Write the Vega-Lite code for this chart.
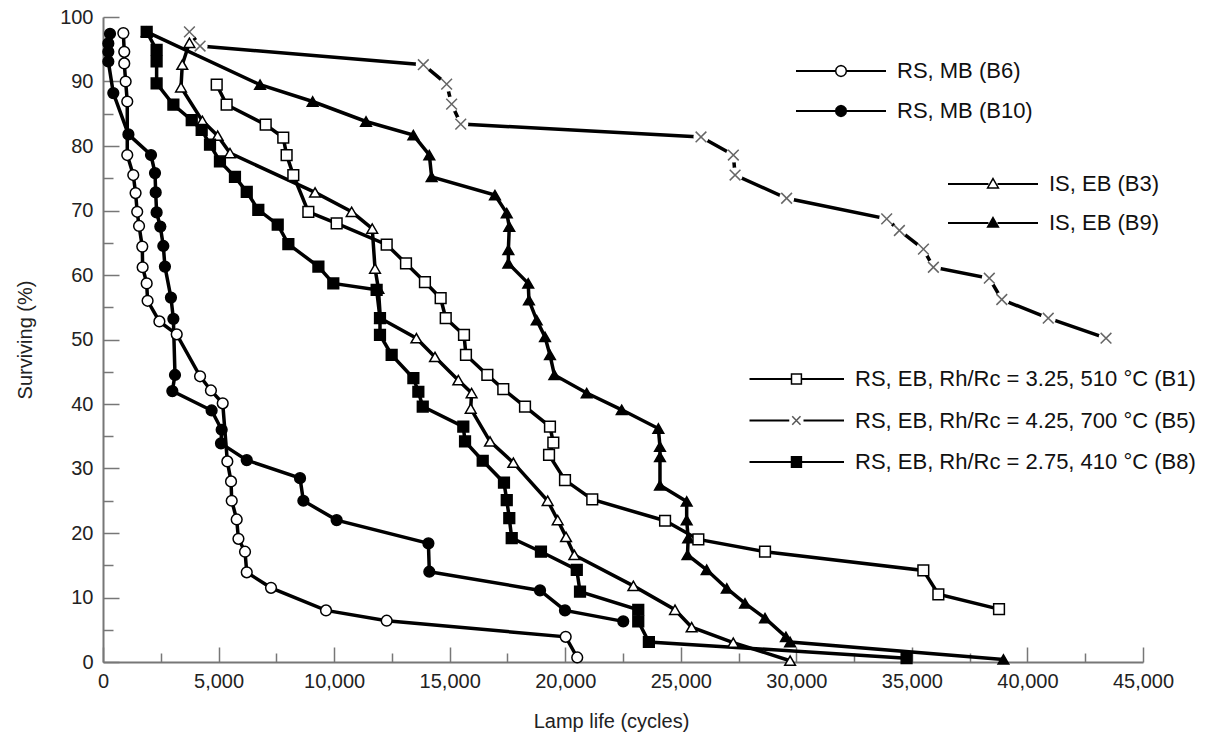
{
"$schema": "https://vega.github.io/schema/vega-lite/v6.json",
"width": 1040, "height": 645,
"autosize": {"type": "none"},
"padding": {"left": 103, "top": 17, "right": 76, "bottom": 80},
"background": "white",
"config": {"view": {"stroke": null}, "font": "Liberation Sans"},
"datasets": {
"pts": [
{"s":"B6","i":0,"x":880,"y":97.5},{"s":"B6","i":1,"x":920,"y":94.6},{"s":"B6","i":2,"x":920,"y":92.8},{"s":"B6","i":3,"x":980,"y":90.0},{"s":"B6","i":4,"x":1050,"y":86.9},{"s":"B6","i":5,"x":1050,"y":78.6},{"s":"B6","i":6,"x":1310,"y":75.5},{"s":"B6","i":7,"x":1410,"y":72.7},{"s":"B6","i":8,"x":1480,"y":69.8},{"s":"B6","i":9,"x":1560,"y":67.6},{"s":"B6","i":10,"x":1700,"y":64.4},{"s":"B6","i":11,"x":1715,"y":61.2},{"s":"B6","i":12,"x":1890,"y":58.7},{"s":"B6","i":13,"x":1930,"y":56.0},{"s":"B6","i":14,"x":2440,"y":52.8},{"s":"B6","i":15,"x":3190,"y":50.8},{"s":"B6","i":16,"x":4200,"y":44.3},{"s":"B6","i":17,"x":4670,"y":42.1},{"s":"B6","i":18,"x":5180,"y":40.1},{"s":"B6","i":19,"x":5380,"y":31.1},{"s":"B6","i":20,"x":5540,"y":28.0},{"s":"B6","i":21,"x":5570,"y":25.0},{"s":"B6","i":22,"x":5785,"y":22.1},{"s":"B6","i":23,"x":5860,"y":19.1},{"s":"B6","i":24,"x":6145,"y":17.1},{"s":"B6","i":25,"x":6220,"y":13.9},{"s":"B6","i":26,"x":7270,"y":11.5},{"s":"B6","i":27,"x":9650,"y":8.0},{"s":"B6","i":28,"x":12275,"y":6.4},{"s":"B6","i":29,"x":20020,"y":3.9},{"s":"B6","i":30,"x":20520,"y":0.7},
{"s":"B10","i":0,"x":303,"y":97.4},{"s":"B10","i":1,"x":230,"y":95.9},{"s":"B10","i":2,"x":230,"y":94.6},{"s":"B10","i":3,"x":230,"y":93.1},{"s":"B10","i":4,"x":446,"y":88.2},{"s":"B10","i":5,"x":1100,"y":81.8},{"s":"B10","i":6,"x":2077,"y":78.6},{"s":"B10","i":7,"x":2250,"y":75.8},{"s":"B10","i":8,"x":2280,"y":72.8},{"s":"B10","i":9,"x":2320,"y":69.7},{"s":"B10","i":10,"x":2480,"y":67.5},{"s":"B10","i":11,"x":2610,"y":64.5},{"s":"B10","i":12,"x":2680,"y":61.3},{"s":"B10","i":13,"x":2940,"y":56.5},{"s":"B10","i":14,"x":3045,"y":53.2},{"s":"B10","i":15,"x":3115,"y":44.5},{"s":"B10","i":16,"x":3000,"y":42.0},{"s":"B10","i":17,"x":4700,"y":39.0},{"s":"B10","i":18,"x":5135,"y":36.0},{"s":"B10","i":19,"x":5105,"y":33.9},{"s":"B10","i":20,"x":6220,"y":31.3},{"s":"B10","i":21,"x":8525,"y":28.5},{"s":"B10","i":22,"x":8670,"y":25.0},{"s":"B10","i":23,"x":10110,"y":22.0},{"s":"B10","i":24,"x":14080,"y":18.4},{"s":"B10","i":25,"x":14120,"y":14.0},{"s":"B10","i":26,"x":18910,"y":11.1},{"s":"B10","i":27,"x":19990,"y":8.0},{"s":"B10","i":28,"x":22510,"y":6.3},
{"s":"B3","i":0,"x":3740,"y":96.0},{"s":"B3","i":1,"x":3430,"y":92.6},{"s":"B3","i":2,"x":3375,"y":89.1},{"s":"B3","i":3,"x":4300,"y":83.9},{"s":"B3","i":4,"x":4960,"y":81.6},{"s":"B3","i":5,"x":5495,"y":78.9},{"s":"B3","i":6,"x":9175,"y":72.8},{"s":"B3","i":7,"x":10760,"y":69.8},{"s":"B3","i":8,"x":11650,"y":67.2},{"s":"B3","i":9,"x":11770,"y":61.0},{"s":"B3","i":10,"x":11915,"y":57.9},{"s":"B3","i":11,"x":12000,"y":53.3},{"s":"B3","i":12,"x":13560,"y":50.2},{"s":"B3","i":13,"x":14365,"y":47.3},{"s":"B3","i":14,"x":15375,"y":43.7},{"s":"B3","i":15,"x":15950,"y":41.7},{"s":"B3","i":16,"x":15910,"y":39.3},{"s":"B3","i":17,"x":16745,"y":34.2},{"s":"B3","i":18,"x":17755,"y":30.9},{"s":"B3","i":19,"x":19240,"y":25.0},{"s":"B3","i":20,"x":19675,"y":22.0},{"s":"B3","i":21,"x":20035,"y":19.4},{"s":"B3","i":22,"x":20395,"y":16.6},{"s":"B3","i":23,"x":22950,"y":11.8},{"s":"B3","i":24,"x":24750,"y":8.1},{"s":"B3","i":25,"x":25470,"y":5.4},{"s":"B3","i":26,"x":27270,"y":3.0},{"s":"B3","i":27,"x":29730,"y":0.2},
{"s":"B9","i":0,"x":1890,"y":97.7},{"s":"B9","i":1,"x":6795,"y":89.5},{"s":"B9","i":2,"x":9070,"y":86.9},{"s":"B9","i":3,"x":11380,"y":83.8},{"s":"B9","i":4,"x":13430,"y":81.7},{"s":"B9","i":5,"x":14120,"y":78.6},{"s":"B9","i":6,"x":14220,"y":75.2},{"s":"B9","i":7,"x":16960,"y":72.4},{"s":"B9","i":8,"x":17470,"y":69.6},{"s":"B9","i":9,"x":17580,"y":67.5},{"s":"B9","i":10,"x":17540,"y":63.9},{"s":"B9","i":11,"x":17540,"y":61.8},{"s":"B9","i":12,"x":18400,"y":58.7},{"s":"B9","i":13,"x":18430,"y":56.1},{"s":"B9","i":14,"x":18765,"y":53.0},{"s":"B9","i":15,"x":19125,"y":50.4},{"s":"B9","i":16,"x":19340,"y":47.6},{"s":"B9","i":17,"x":19530,"y":44.5},{"s":"B9","i":18,"x":20930,"y":41.7},{"s":"B9","i":19,"x":22445,"y":39.1},{"s":"B9","i":20,"x":24030,"y":36.2},{"s":"B9","i":21,"x":24100,"y":33.4},{"s":"B9","i":22,"x":24100,"y":31.8},{"s":"B9","i":23,"x":24100,"y":27.4},{"s":"B9","i":24,"x":25255,"y":24.9},{"s":"B9","i":25,"x":25255,"y":22.0},{"s":"B9","i":26,"x":25320,"y":19.2},{"s":"B9","i":27,"x":25290,"y":16.6},{"s":"B9","i":28,"x":26120,"y":14.3},{"s":"B9","i":29,"x":26990,"y":11.4},{"s":"B9","i":30,"x":27780,"y":9.1},{"s":"B9","i":31,"x":28645,"y":6.8},{"s":"B9","i":32,"x":29550,"y":3.9},{"s":"B9","i":33,"x":29730,"y":3.1},{"s":"B9","i":34,"x":38960,"y":0.4},
{"s":"B1","i":0,"x":4920,"y":89.5},{"s":"B1","i":1,"x":5350,"y":86.4},{"s":"B1","i":2,"x":7040,"y":83.3},{"s":"B1","i":3,"x":7800,"y":81.3},{"s":"B1","i":4,"x":7945,"y":78.6},{"s":"B1","i":5,"x":8235,"y":75.5},{"s":"B1","i":6,"x":8885,"y":69.8},{"s":"B1","i":7,"x":10110,"y":68.0},{"s":"B1","i":8,"x":12275,"y":64.7},{"s":"B1","i":9,"x":13110,"y":61.8},{"s":"B1","i":10,"x":13930,"y":58.9},{"s":"B1","i":11,"x":14610,"y":56.4},{"s":"B1","i":12,"x":14830,"y":53.3},{"s":"B1","i":13,"x":15620,"y":50.7},{"s":"B1","i":14,"x":15705,"y":47.6},{"s":"B1","i":15,"x":16630,"y":44.5},{"s":"B1","i":16,"x":17320,"y":42.3},{"s":"B1","i":17,"x":18260,"y":39.6},{"s":"B1","i":18,"x":19340,"y":36.5},{"s":"B1","i":19,"x":19485,"y":34.0},{"s":"B1","i":20,"x":19300,"y":32.1},{"s":"B1","i":21,"x":19990,"y":28.2},{"s":"B1","i":22,"x":21170,"y":25.2},{"s":"B1","i":23,"x":24320,"y":21.9},{"s":"B1","i":24,"x":25760,"y":19.0},{"s":"B1","i":25,"x":28645,"y":17.1},{"s":"B1","i":26,"x":35495,"y":14.2},{"s":"B1","i":27,"x":36145,"y":10.5},{"s":"B1","i":28,"x":38770,"y":8.2},
{"s":"B8","i":0,"x":1890,"y":97.7},{"s":"B8","i":1,"x":2320,"y":94.9},{"s":"B8","i":2,"x":2320,"y":93.1},{"s":"B8","i":3,"x":2320,"y":89.7},{"s":"B8","i":4,"x":3045,"y":86.4},{"s":"B8","i":5,"x":3840,"y":84.0},{"s":"B8","i":6,"x":4270,"y":82.5},{"s":"B8","i":7,"x":4630,"y":80.2},{"s":"B8","i":8,"x":5060,"y":77.6},{"s":"B8","i":9,"x":5710,"y":75.2},{"s":"B8","i":10,"x":6220,"y":72.9},{"s":"B8","i":11,"x":6720,"y":70.1},{"s":"B8","i":12,"x":7560,"y":67.8},{"s":"B8","i":13,"x":8020,"y":64.8},{"s":"B8","i":14,"x":9320,"y":61.3},{"s":"B8","i":15,"x":9965,"y":58.7},{"s":"B8","i":16,"x":11840,"y":57.7},{"s":"B8","i":17,"x":11985,"y":53.3},{"s":"B8","i":18,"x":11985,"y":50.7},{"s":"B8","i":19,"x":12490,"y":47.6},{"s":"B8","i":20,"x":13430,"y":44.0},{"s":"B8","i":21,"x":13645,"y":41.9},{"s":"B8","i":22,"x":13835,"y":39.6},{"s":"B8","i":23,"x":15590,"y":36.5},{"s":"B8","i":24,"x":15665,"y":34.2},{"s":"B8","i":25,"x":16430,"y":31.2},{"s":"B8","i":26,"x":17350,"y":27.8},{"s":"B8","i":27,"x":17470,"y":25.1},{"s":"B8","i":28,"x":17580,"y":22.3},{"s":"B8","i":29,"x":17685,"y":19.2},{"s":"B8","i":30,"x":18950,"y":17.1},{"s":"B8","i":31,"x":20500,"y":14.3},{"s":"B8","i":32,"x":20640,"y":10.9},{"s":"B8","i":33,"x":23160,"y":8.1},{"s":"B8","i":34,"x":23160,"y":6.3},{"s":"B8","i":35,"x":23620,"y":3.1},{"s":"B8","i":36,"x":34770,"y":0.6},
{"s":"B5","i":0,"x":3740,"y":97.7},{"s":"B5","i":1,"x":4200,"y":95.5},{"s":"B5","i":2,"x":13860,"y":92.6},{"s":"B5","i":3,"x":14870,"y":89.6},{"s":"B5","i":4,"x":15085,"y":86.5},{"s":"B5","i":5,"x":15480,"y":83.4},{"s":"B5","i":6,"x":25875,"y":81.4},{"s":"B5","i":7,"x":27275,"y":78.6},{"s":"B5","i":8,"x":27350,"y":75.5},{"s":"B5","i":9,"x":29580,"y":71.9},{"s":"B5","i":10,"x":33910,"y":68.7},{"s":"B5","i":11,"x":34460,"y":66.9},{"s":"B5","i":12,"x":35500,"y":64.0},{"s":"B5","i":13,"x":35930,"y":61.2},{"s":"B5","i":14,"x":38350,"y":59.5},{"s":"B5","i":15,"x":38890,"y":56.2},{"s":"B5","i":16,"x":40900,"y":53.3},{"s":"B5","i":17,"x":43400,"y":50.2}
],
"series": [
{"s":"B6","g":1,"label":"RS, MB (B6)"},
{"s":"B10","g":1,"label":"RS, MB (B10)"},
{"s":"B3","g":2,"label":"IS, EB (B3)"},
{"s":"B9","g":2,"label":"IS, EB (B9)"},
{"s":"B1","g":3,"label":"RS, EB, Rh/Rc  = 3.25, 510 °C (B1)"},
{"s":"B5","g":3,"label":"RS, EB, Rh/Rc  = 4.25, 700 °C (B5)"},
{"s":"B8","g":3,"label":"RS, EB, Rh/Rc  = 2.75, 410 °C (B8)"}
]
},
"resolve": {
"scale": {"shape": "independent", "fill": "independent", "stroke": "independent"},
"axis": {"x": "independent", "y": "independent"},
"legend": {"shape": "independent", "fill": "independent", "stroke": "independent"}
},
"layer": [
{
"data": {"name": "pts"},
"mark": {"type": "line", "color": "black", "strokeWidth": 3.5},
"encoding": {
"x": {"field": "x", "type": "quantitative", "scale": {"domain": [0, 45000], "nice": false, "zero": false},
"axis": {"orient": "bottom", "values": [0,5000,10000,15000,20000,25000,30000,35000,40000,45000], "format": ",d", "grid": false,
"tickSize": -15, "tickColor": "#777", "tickWidth": 1.5, "domainColor": "#777", "domainWidth": 2,
"labelPadding": 24, "labelFontSize": 20, "labelColor": "#222", "labelFlush": false, "labelOverlap": false,
"title": "Lamp life (cycles)", "titleFontSize": 20, "titleFontWeight": "normal", "titleColor": "#222", "titlePadding": 20, "titleX": 508}},
"y": {"field": "y", "type": "quantitative", "scale": {"domain": [0, 100], "nice": false, "zero": false},
"axis": {"orient": "left", "values": [0,10,20,30,40,50,60,70,80,90,100], "grid": false,
"tickSize": -16, "tickColor": "#777", "tickWidth": 1.5, "domainColor": "#777", "domainWidth": 2,
"labelPadding": 26, "labelFontSize": 20, "labelColor": "#222", "labelFlush": false, "labelOverlap": false,
"title": "Surviving (%)", "titleFontSize": 20, "titleFontWeight": "normal", "titleColor": "#222", "titlePadding": 24}},
"detail": {"field": "s"},
"order": {"field": "i", "type": "quantitative"}
}
},
{
"data": {"name": "pts"},
"transform": [{"filter": "datum.s === 'B5'"}],
"mark": {"type": "point", "shape": "circle", "filled": true, "color": "white", "size": 230, "opacity": 1},
"encoding": {
"x": {"field": "x", "type": "quantitative",
"axis": {"orient": "bottom", "values": [2500,7500,12500,17500,22500,27500,32500,37500,42500], "labels": false, "domain": false, "grid": false, "title": null,
"tickSize": -9, "tickColor": "#777", "tickWidth": 1.5}},
"y": {"field": "y", "type": "quantitative",
"axis": {"orient": "left", "values": [5,15,25,35,45,55,65,75,85,95], "labels": false, "domain": false, "grid": false, "title": null,
"tickSize": -10, "tickColor": "#777", "tickWidth": 1.5}}
}
},
{
"data": {"name": "pts"},
"mark": {"type": "point", "size": 115, "strokeWidth": 1.5, "opacity": 1},
"encoding": {
"x": {"field": "x", "type": "quantitative", "axis": null},
"y": {"field": "y", "type": "quantitative", "axis": null},
"shape": {"field": "s", "type": "nominal", "legend": null,
"scale": {"domain": ["B6","B10","B3","B9","B1","B8","B5"], "range": ["circle","circle","triangle-up","triangle-up","square","square","M-1,-1L1,1M-1,1L1,-1"]}},
"fill": {"field": "s", "type": "nominal", "legend": null,
"scale": {"domain": ["B6","B10","B3","B9","B1","B8","B5"], "range": ["white","black","white","black","white","black","transparent"]}},
"stroke": {"field": "s", "type": "nominal", "legend": null,
"scale": {"domain": ["B6","B10","B3","B9","B1","B8","B5"], "range": ["black","black","black","black","black","black","#666"]}}
}
},
{
"data": {"name": "series"},
"transform": [{"filter": "datum.g === 1"}],
"mark": {"type": "point", "filled": true, "color": "black", "size": 900, "opacity": 0},
"encoding": {
"shape": {"field": "label", "type": "nominal",
"scale": {"domain": ["RS, MB (B6)","RS, MB (B10)"], "range": ["M-5,-0.07H-2.36V0.07H-5Z M-1.64,-0.07H1V0.07H-1.64Z","M-5,-0.07H-2.36V0.07H-5Z M-1.64,-0.07H1V0.07H-1.64Z"]},
"legend": {"orient": "none", "legendX": 752, "legendY": 38, "title": null, "padding": 0, "symbolSize": 900, "symbolOpacity": 1,
"symbolFillColor": "black", "symbolStrokeColor": "black", "symbolStrokeWidth": 1.5, "labelExpr": "''", "labelFontSize": 22, "rowPadding": 13, "labelOffset": 10}}
}
},
{
"data": {"name": "series"},
"transform": [{"filter": "datum.g === 1"}],
"mark": {"type": "point", "size": 900, "opacity": 0},
"encoding": {
"shape": {"field": "label", "type": "nominal",
"scale": {"domain": ["RS, MB (B6)","RS, MB (B10)"], "range": ["M-1.64,0L-1.688,0.18L-1.82,0.312L-2,0.36L-2.18,0.312L-2.312,0.18L-2.36,0L-2.312,-0.18L-2.18,-0.312L-2,-0.36L-1.82,-0.312L-1.688,-0.18Z","M-1.64,0L-1.688,0.18L-1.82,0.312L-2,0.36L-2.18,0.312L-2.312,0.18L-2.36,0L-2.312,-0.18L-2.18,-0.312L-2,-0.36L-1.82,-0.312L-1.688,-0.18Z"]},
"legend": {"orient": "none", "legendX": 752, "legendY": 38, "title": null, "padding": 0, "symbolSize": 900, "symbolOpacity": 1,
"symbolStrokeWidth": 1.5, "labelFontSize": 22, "labelColor": "#111", "labelLimit": 0, "rowPadding": 13, "labelOffset": 10}},
"fill": {"field": "label", "type": "nominal", "scale": {"domain": ["RS, MB (B6)","RS, MB (B10)"], "range": ["white","black"]}},
"stroke": {"field": "label", "type": "nominal", "scale": {"domain": ["RS, MB (B6)","RS, MB (B10)"], "range": ["black","black"]}}
}
},
{
"data": {"name": "series"},
"transform": [{"filter": "datum.g === 2"}],
"mark": {"type": "point", "filled": true, "color": "black", "size": 900, "opacity": 0},
"encoding": {
"shape": {"field": "label", "type": "nominal",
"scale": {"domain": ["IS, EB (B3)","IS, EB (B9)"], "range": ["M-5,-0.07H-2.3V0.07H-5Z M-1.7,-0.07H1V0.07H-1.7Z","M-5,-0.07H-2.3V0.07H-5Z M-1.7,-0.07H1V0.07H-1.7Z"]},
"legend": {"orient": "none", "legendX": 904, "legendY": 151, "title": null, "padding": 0, "symbolSize": 900, "symbolOpacity": 1,
"symbolFillColor": "black", "symbolStrokeColor": "black", "symbolStrokeWidth": 1.5, "labelExpr": "''", "labelFontSize": 22, "rowPadding": 12, "labelOffset": 10}}
}
},
{
"data": {"name": "series"},
"transform": [{"filter": "datum.g === 2"}],
"mark": {"type": "point", "size": 900, "opacity": 0},
"encoding": {
"shape": {"field": "label", "type": "nominal",
"scale": {"domain": ["IS, EB (B3)","IS, EB (B9)"], "range": ["M-2,-0.36L-1.64,0.26L-2.36,0.26Z","M-2,-0.36L-1.64,0.26L-2.36,0.26Z"]},
"legend": {"orient": "none", "legendX": 904, "legendY": 151, "title": null, "padding": 0, "symbolSize": 900, "symbolOpacity": 1,
"symbolStrokeWidth": 1.5, "labelFontSize": 22, "labelColor": "#111", "labelLimit": 0, "rowPadding": 12, "labelOffset": 10}},
"fill": {"field": "label", "type": "nominal", "scale": {"domain": ["IS, EB (B3)","IS, EB (B9)"], "range": ["white","black"]}},
"stroke": {"field": "label", "type": "nominal", "scale": {"domain": ["IS, EB (B3)","IS, EB (B9)"], "range": ["black","black"]}}
}
},
{
"data": {"name": "series"},
"transform": [{"filter": "datum.g === 3"}],
"mark": {"type": "point", "filled": true, "color": "black", "size": 900, "opacity": 0},
"encoding": {
"shape": {"field": "label", "type": "nominal",
"scale": {"domain": ["RS, EB, Rh/Rc  = 3.25, 510 °C (B1)","RS, EB, Rh/Rc  = 4.25, 700 °C (B5)","RS, EB, Rh/Rc  = 2.75, 410 °C (B8)"], "range": ["M-5.3,-0.07H-2.5V0.07H-5.3Z M-1.84,-0.07H1V0.07H-1.84Z","M-5.3,-0.07H-2.65V0.07H-5.3Z M-1.7,-0.07H1V0.07H-1.7Z","M-5.3,-0.07H-2.5V0.07H-5.3Z M-1.84,-0.07H1V0.07H-1.84Z"]},
"legend": {"orient": "none", "legendX": 710, "legendY": 346, "title": null, "padding": 0, "symbolSize": 900, "symbolOpacity": 1,
"symbolFillColor": "black", "symbolStrokeColor": "black", "symbolStrokeWidth": 1.5, "labelExpr": "''", "labelFontSize": 22, "rowPadding": 14.5, "labelOffset": 10}}
}
},
{
"data": {"name": "series"},
"transform": [{"filter": "datum.g === 3"}],
"mark": {"type": "point", "size": 900, "opacity": 0},
"encoding": {
"shape": {"field": "label", "type": "nominal",
"scale": {"domain": ["RS, EB, Rh/Rc  = 3.25, 510 °C (B1)","RS, EB, Rh/Rc  = 4.25, 700 °C (B5)","RS, EB, Rh/Rc  = 2.75, 410 °C (B8)"], "range": ["M-2.5,-0.33H-1.84V0.33H-2.5Z","M-2.45,-0.28L-1.9,0.28M-2.45,0.28L-1.9,-0.28","M-2.5,-0.35H-1.84V0.35H-2.5Z"]},
"legend": {"orient": "none", "legendX": 710, "legendY": 346, "title": null, "padding": 0, "symbolSize": 900, "symbolOpacity": 1,
"symbolStrokeWidth": 1.5, "labelFontSize": 22, "labelColor": "#111", "labelLimit": 0, "rowPadding": 14.5, "labelOffset": 10}},
"fill": {"field": "label", "type": "nominal", "scale": {"domain": ["RS, EB, Rh/Rc  = 3.25, 510 °C (B1)","RS, EB, Rh/Rc  = 4.25, 700 °C (B5)","RS, EB, Rh/Rc  = 2.75, 410 °C (B8)"], "range": ["white","transparent","black"]}},
"stroke": {"field": "label", "type": "nominal", "scale": {"domain": ["RS, EB, Rh/Rc  = 3.25, 510 °C (B1)","RS, EB, Rh/Rc  = 4.25, 700 °C (B5)","RS, EB, Rh/Rc  = 2.75, 410 °C (B8)"], "range": ["black","#555","black"]}}
}
}
]
}
